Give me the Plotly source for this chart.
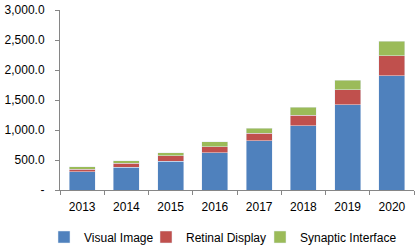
import plotly.graph_objects as go

years = ["2013", "2014", "2015", "2016", "2017", "2018", "2019", "2020"]
visual_image = [305, 383, 483, 617, 817, 1072, 1417, 1906]
retinal_display = [45, 67, 89, 105, 133, 178, 255, 333]
synaptic_interface = [40, 39, 50, 84, 83, 133, 161, 244]
y_tick_vals = [0, 500, 1000, 1500, 2000, 2500, 3000]
y_tick_text = ["-", "500.0", "1,000.0", "1,500.0", "2,000.0", "2,500.0", "3,000.0"]

font_family = "Liberation Sans, Arial, sans-serif"
W, H = 420, 247

fig = go.Figure()
fig.add_trace(go.Bar(x=years, y=visual_image, name="Visual Image",
                     marker_color="#4F81BD", legend="legend"))
fig.add_trace(go.Bar(x=years, y=retinal_display, name="Retinal Display",
                     marker_color="#C0504D", legend="legend2"))
fig.add_trace(go.Bar(x=years, y=synaptic_interface, name="Synaptic Interface",
                     marker_color="#9BBB59", legend="legend3"))


def legend_at(text_left):
    return dict(
        orientation="h",
        xref="container",
        yref="container",
        x=(text_left - 40) / W,
        xanchor="left",
        y=(H - 237) / H,
        yanchor="middle",
        font=dict(size=12, color="#000000"),
        itemwidth=30,
        borderwidth=0,
        bgcolor="rgba(0,0,0,0)",
    )


fig.update_layout(
    barmode="stack",
    bargap=0.415,
    width=W,
    height=H,
    margin=dict(l=60, r=6, t=10, b=57, autoexpand=False),
    paper_bgcolor="white",
    plot_bgcolor="white",
    font=dict(family=font_family, size=12, color="#000000"),
    showlegend=True,
    legend=legend_at(84),
    legend2=legend_at(186),
    legend3=legend_at(300),
    xaxis=dict(
        type="category",
        showline=True,
        linecolor="#868686",
        linewidth=1,
        ticks="outside",
        tickson="boundaries",
        ticklen=4,
        tickcolor="#868686",
        showgrid=False,
        ticklabelstandoff=6,
        tickfont=dict(size=12, color="#000000"),
    ),
    yaxis=dict(
        range=[0, 3000],
        tickvals=y_tick_vals,
        ticktext=y_tick_text,
        showline=True,
        linecolor="#868686",
        linewidth=1,
        ticks="outside",
        ticklen=4,
        tickcolor="#868686",
        showgrid=False,
        zeroline=False,
        ticklabelstandoff=8,
        tickfont=dict(size=12, color="#000000"),
    ),
)

fig.write_html("out.html")
